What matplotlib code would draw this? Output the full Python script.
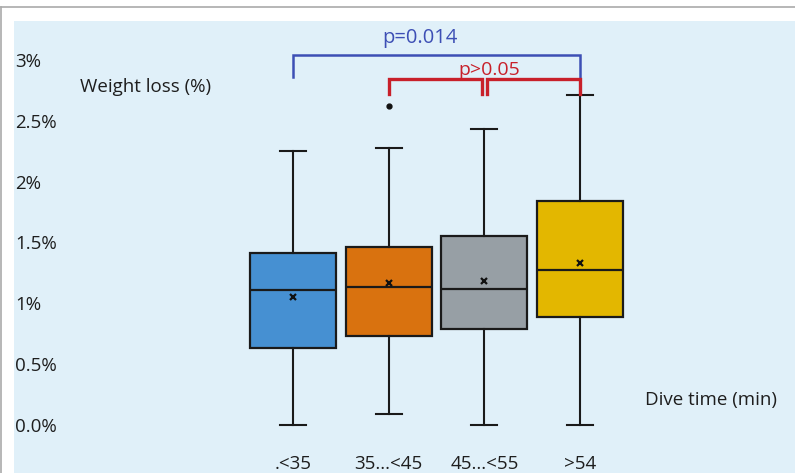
import matplotlib.pyplot as plt
from matplotlib.lines import Line2D
from matplotlib.patches import Rectangle

plt.rcParams['font.family'] = ['Open Sans', 'DejaVu Sans']

# data (weight loss %)
groups = ['.<35', '35...<45', '45...<55', '>54']
whislo = [0.0, 0.09, 0.0, 0.0]
q1 = [0.63, 0.73, 0.79, 0.89]
med = [1.11, 1.13, 1.12, 1.27]
q3 = [1.41, 1.46, 1.55, 1.84]
whishi = [2.25, 2.28, 2.43, 2.71]
means = [1.05, 1.17, 1.18, 1.33]
outliers = [[], [2.62], [], []]
colors = ['#4690d2', '#d9720f', '#979fa5', '#e3b700']

yticks = [0, 0.5, 1, 1.5, 2, 2.5, 3]
yticklabels = ['0.0%', '0.5%', '1%', '1.5%', '2%', '2.5%', '3%']

W, H = 795, 473
fig = plt.figure(figsize=(W / 100, H / 100), dpi=100, facecolor='white')

# light blue panel + grey frame
fig.patches.append(Rectangle((14 / W, 0), 1 - 14 / W, 1 - 21 / H, transform=fig.transFigure,
                             facecolor='#e0f0f9', edgecolor='none', zorder=-5))
fig.lines.append(Line2D([1 / W, 1 / W], [0, 1 - 7 / H], transform=fig.transFigure, color='#aaaaaa', lw=1.2, zorder=-4))
fig.lines.append(Line2D([1 / W, 1], [1 - 7 / H, 1 - 7 / H], transform=fig.transFigure, color='#aaaaaa', lw=1.2, zorder=-4))

# axes in pixel terms: left 14, right 795, top 21, bottom 445
ax = fig.add_axes([14 / W, (H - 445) / H, 1 - 14 / W, (445 - 21) / H])
ax.patch.set_alpha(0)
for s in ax.spines.values():
    s.set_visible(False)

px_x = 95.7
px_y = 121.7
ax.set_xlim(1 - (293 - 14) / px_x, 1 + (795 - 293) / px_x)
ax.set_ylim(-(445 - 425) / px_y, (425 - 21) / px_y)

stats = []
for i in range(len(groups)):
    stats.append(dict(med=med[i], q1=q1[i], q3=q3[i], whislo=whislo[i], whishi=whishi[i],
                      mean=means[i], fliers=outliers[i]))

pos = list(range(1, len(groups) + 1))
bp = ax.bxp(stats, positions=pos, widths=0.9, patch_artist=True, showmeans=True,
            boxprops=dict(edgecolor='#1a1a1a', linewidth=1.6),
            medianprops=dict(color='#1a1a1a', linewidth=1.6),
            whiskerprops=dict(color='#1a1a1a', linewidth=1.5),
            capprops=dict(color='#1a1a1a', linewidth=1.5),
            capwidths=0.27,
            meanprops=dict(marker='x', markeredgecolor='#111111', markersize=5, markeredgewidth=1.6),
            flierprops=dict(marker='o', markerfacecolor='#111111', markeredgecolor='#111111', markersize=3.5))
for b, c in zip(bp['boxes'], colors):
    b.set_facecolor(c)

txt = '#1e1e1e'
ax.set_yticks(yticks)
ax.set_yticklabels(yticklabels, fontsize=13.5, color=txt)
ax.tick_params(axis='y', length=0, pad=-1)
for lab in ax.get_yticklabels():
    lab.set_horizontalalignment('left')
ax.set_xticks(pos)
ax.set_xticklabels(groups, fontsize=13.5, color=txt)
ax.tick_params(axis='x', length=0, pad=7)

ax.text(80 / W, 1 - 87 / H, 'Weight loss (%)', transform=fig.transFigure, fontsize=13.5,
        color=txt, va='center', ha='left')
ax.text(645 / W, 1 - 400 / H, 'Dive time (min)', transform=fig.transFigure, fontsize=13.5,
        color=txt, va='center', ha='left')

# significance brackets
blue = '#3d4fb5'
red = '#c8202a'
ax.plot([1, 1, 4, 4], [2.86, 3.04, 3.04, 2.86], color=blue, lw=1.8, solid_joinstyle='miter')
ax.text(2.33, 3.14, 'p=0.014', color=blue, fontsize=14.5, ha='center', va='baseline')
ax.plot([2, 2, 2.97, 2.97], [2.72, 2.84, 2.84, 2.72], color=red, lw=2.4, solid_joinstyle='miter')
ax.plot([3.03, 3.03, 4, 4], [2.72, 2.84, 2.84, 2.72], color=red, lw=2.4, solid_joinstyle='miter')
ax.text(3.05, 2.88, 'p>0.05', color=red, fontsize=14, ha='center', va='baseline')

fig.savefig('out.png', dpi=100, facecolor='white')
